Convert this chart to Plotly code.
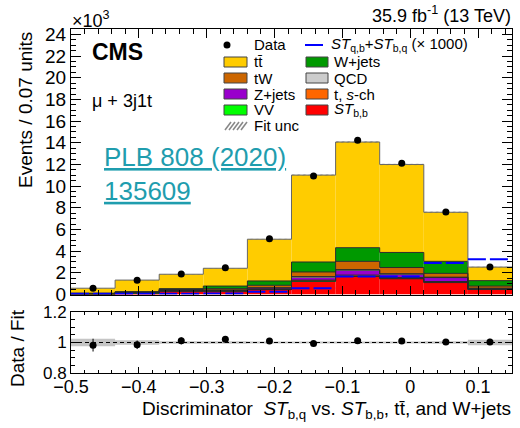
import plotly.graph_objects as go
import numpy as np

# Binning of the discriminator
bin_edges = [-0.5, -0.435, -0.37, -0.305, -0.24, -0.175, -0.11, -0.045, 0.02, 0.085, 0.15]

# Observed events (x10^3)
data = [0.57, 1.31, 1.89, 2.47, 5.15, 10.94, 14.24, 12.11, 7.62, 2.54]

# Fitted templates (x10^3), stacked bottom -> top
st_bb = [0.04, 0.13, 0.30, 0.30, 0.45, 1.22, 1.66, 1.45, 1.10, 0.46]
vv    = [0.005, 0.01, 0.01, 0.01, 0.01, 0.03, 0.03, 0.03, 0.03, 0.01]
t_sch = [0.01, 0.02, 0.03, 0.03, 0.04, 0.08, 0.10, 0.09, 0.07, 0.03]
zjets = [0.01, 0.02, 0.04, 0.05, 0.10, 0.28, 0.45, 0.30, 0.36, 0.06]
qcd   = [0.005, 0.01, 0.01, 0.02, 0.02, 0.04, 0.06, 0.05, 0.04, 0.02]
tw    = [0.02, 0.03, 0.07, 0.13, 0.23, 0.43, 0.76, 0.57, 0.35, 0.20]
wjets = [0.03, 0.04, 0.08, 0.24, 0.40, 0.92, 1.26, 1.39, 1.11, 0.50]
ttbar = [0.46, 1.07, 1.33, 1.64, 3.85, 8.02, 9.75, 8.12, 4.53, 1.25]

# Signal ST_qb + ST_bq scaled by 1000 (x10^3)
signal = [0.07, 0.08, 0.08, 0.09, 0.25, 0.57, 1.65, 1.65, 2.91, 3.25]

# Relative fit uncertainty and data statistical error on the ratio
fit_unc = [0.024, 0.014, 0.008, 0.008, 0.007, 0.006, 0.006, 0.006, 0.008, 0.018]
ratio_err = [0.042, 0.028, 0.023, 0.020, 0.014, 0.010, 0.008, 0.009, 0.011, 0.020]

edges = np.array(bin_edges)
centers = 0.5 * (edges[1:] + edges[:-1])
widths = edges[1:] - edges[:-1]

components = [
    ("ST_bb", st_bb, "#ff0000"),
    ("VV", vv, "#00ff00"),
    ("t s-ch", t_sch, "#ff6600"),
    ("Z+jets", zjets, "#9900cc"),
    ("QCD", qcd, "#cccccc"),
    ("tW", tw, "#cc6600"),
    ("W+jets", wjets, "#009900"),
    ("ttbar", ttbar, "#ffcc00"),
]

FONT = "Liberation Sans"
W, H = 520, 428
L, R, T, B = 71, 8, 29, 55


def px(x):
    return (x - L) / (W - L - R)


def py(y):
    return (H - B - y) / (H - T - B)


fig = go.Figure()

# Filled stack
base = np.zeros(len(centers))
tops = []
for name, vals, col in components:
    v = np.array(vals)
    fig.add_trace(go.Bar(
        x=centers, y=v, base=base.copy(), width=widths,
        marker=dict(color=col, line=dict(width=0)),
        xaxis="x", yaxis="y", showlegend=False, name=name,
    ))
    base = base + v
    tops.append(base.copy())
total = base

# Step outlines of every stacked layer
for i, top in enumerate(tops):
    last = i == len(tops) - 1
    fig.add_trace(go.Scatter(
        x=edges, y=np.append(top, top[-1]), mode="lines", line_shape="hv",
        line=dict(color="#666666" if last else "#2a2a2a", width=1),
        xaxis="x", yaxis="y", showlegend=False, hoverinfo="skip",
    ))

# Fit uncertainty band on the total (hatched)
unc_abs = total * np.array(fit_unc)
fig.add_trace(go.Bar(
    x=centers, y=2 * unc_abs, base=total - unc_abs, width=widths,
    marker=dict(color="rgba(0,0,0,0)", line=dict(width=0),
                pattern=dict(shape="/", fgcolor="#777777", bgcolor="rgba(0,0,0,0)", size=4, solidity=0.4)),
    xaxis="x", yaxis="y", showlegend=False,
))

# Signal as dashed per-bin horizontal segments
sx, sy = [], []
for i, v in enumerate(signal):
    sx += [edges[i], edges[i + 1], None]
    sy += [v, v, None]
fig.add_trace(go.Scatter(
    x=sx, y=sy, mode="lines", line=dict(color="#0000ff", width=2, dash="18px,4px"),
    xaxis="x", yaxis="y", showlegend=False,
))

# Data points
fig.add_trace(go.Scatter(
    x=centers, y=data, mode="markers", marker=dict(color="black", size=7),
    xaxis="x", yaxis="y", showlegend=False,
))

# Ratio panel: fit uncertainty band
fu = np.array(fit_unc)
fig.add_trace(go.Bar(
    x=centers, y=2 * fu, base=1 - fu, width=widths,
    marker=dict(color="rgba(150,150,150,0.55)", line=dict(width=0)),
    xaxis="x2", yaxis="y2", showlegend=False,
))

ratio = np.array(data) / total
fig.add_trace(go.Scatter(
    x=centers, y=ratio, mode="markers",
    marker=dict(color="black", size=7),
    error_y=dict(type="data", array=ratio_err, color="black", thickness=1, width=0),
    xaxis="x2", yaxis="y2", showlegend=False,
))

axis_common = dict(
    showline=True, linecolor="black", linewidth=1, mirror="allticks",
    ticks="inside", tickcolor="black", showgrid=False, zeroline=False,
)

fig.update_layout(
    width=W, height=H,
    margin=dict(l=L, r=R, t=T, b=B),
    paper_bgcolor="white", plot_bgcolor="white",
    barmode="overlay",
    font=dict(family=FONT, color="black"),
    xaxis=dict(
        **axis_common, range=[-0.5, 0.15], domain=[0, 1], anchor="y",
        tick0=0, dtick=0.1, ticklen=9, showticklabels=False,
        minor=dict(dtick=0.02, ticklen=5, ticks="inside", tickcolor="black", showgrid=False),
    ),
    yaxis=dict(
        **axis_common, range=[0, 24.5], domain=[py(294.5), 1], anchor="x",
        tick0=0, dtick=2, ticklen=10, tickfont=dict(size=19),
        minor=dict(dtick=0.5, ticklen=5, ticks="inside", tickcolor="black", showgrid=False),
    ),
    xaxis2=dict(
        **axis_common, range=[-0.5, 0.15], domain=[0, 1], anchor="y2", matches="x",
        tick0=0, dtick=0.1, ticklen=6, tickfont=dict(size=18), ticklabelstandoff=-3,
        minor=dict(dtick=0.02, ticklen=3, ticks="inside", tickcolor="black", showgrid=False),
    ),
    yaxis2=dict(
        **axis_common, range=[0.8, 1.2], domain=[0, py(312)], anchor="x2",
        tick0=0, dtick=0.2, ticklen=7, tickfont=dict(size=17),
        minor=dict(dtick=0.05, ticklen=4, ticks="inside", tickcolor="black", showgrid=False),
    ),
)

shapes = [
    dict(type="line", xref="x2", yref="y2", x0=-0.5, x1=0.15, y0=1, y1=1,
         line=dict(color="black", width=1, dash="4px,3px")),
]

annotations = []


def text(x, y, s, size, xanchor="left", yanchor="middle", angle=0, color="black", align="left"):
    annotations.append(dict(
        xref="paper", yref="paper", x=px(x), y=py(y), text=s, showarrow=False,
        xanchor=xanchor, yanchor=yanchor, textangle=angle, align=align,
        font=dict(family=FONT, size=size, color=color),
    ))


text(70, 20, "×10<sup>3</sup>", 18)
text(513, 15, "35.9 fb<sup>-1</sup> (13 TeV)", 18, xanchor="right")
text(90, 52, "<b>CMS</b>", 23)
text(90, 101, "μ + 3j1t", 18)
text(102, 174, "<u>PLB 808 (2020)</u><br><u>135609</u>", 26, color="#1f9dae")
text(25, 30, "Events / 0.07 units", 19, xanchor="center", yanchor="top", angle=-90)
text(17, 348, "Data / Fit", 19, xanchor="center", angle=-90)
text(513, 410, "Discriminator  <i>ST</i><sub>b,q</sub> vs. <i>ST</i><sub>b,b</sub>, tt\u0304, and W+jets", 19,
     xanchor="right")

# Legend
rows = [45, 62, 78, 94, 110, 126]
c1_box, c1_txt = (224, 247), 252
c2_box, c2_txt = (306, 328), 332

shapes.append(dict(type="circle", xref="paper", yref="paper",
                   x0=px(223.5), x1=px(230.5), y0=py(48.5), y1=py(41.5),
                   fillcolor="black", line=dict(width=0)))
text(c1_txt, rows[0], "Data", 15)
shapes.append(dict(type="line", xref="paper", yref="paper",
                   x0=px(305), x1=px(323), y0=py(rows[0]), y1=py(rows[0]),
                   line=dict(color="#0000ff", width=2)))
text(c2_txt - 3, rows[0], "<i>ST</i><sub>q,b</sub>+<i>ST</i><sub>b,q</sub> (× 1000)", 15)

legend_col1 = [("tt\u0304", "#ffcc00"), ("tW", "#cc6600"), ("Z+jets", "#9900cc"), ("VV", "#00ff00")]
legend_col2 = [("W+jets", "#009900"), ("QCD", "#cccccc"), ("t, <i>s</i>-ch", "#ff6600"),
               ("<i>ST</i><sub>b,b</sub>", "#ff0000")]

for (lab, col), yr in zip(legend_col1, rows[1:5]):
    shapes.append(dict(type="rect", xref="paper", yref="paper",
                       x0=px(c1_box[0]), x1=px(c1_box[1]), y0=py(yr + 5), y1=py(yr - 5),
                       fillcolor=col, line=dict(color="#444444", width=1)))
    text(c1_txt, yr, lab, 15)
for (lab, col), yr in zip(legend_col2, rows[1:5]):
    shapes.append(dict(type="rect", xref="paper", yref="paper",
                       x0=px(c2_box[0]), x1=px(c2_box[1]), y0=py(yr + 5), y1=py(yr - 5),
                       fillcolor=col, line=dict(color="#444444", width=1)))
    text(c2_txt, yr, lab, 15)

# Hatched symbol for the fit uncertainty entry
yr = rows[5]
for k in range(5):
    x0 = c1_box[0] + 1 + 4 * k
    shapes.append(dict(type="line", xref="paper", yref="paper",
                       x0=px(x0), x1=px(x0 + 6), y0=py(yr + 4), y1=py(yr - 4),
                       line=dict(color="#888888", width=1.5)))
text(c1_txt, yr, "Fit unc", 15)

fig.update_layout(shapes=shapes, annotations=annotations)

fig.write_html("out.html")
